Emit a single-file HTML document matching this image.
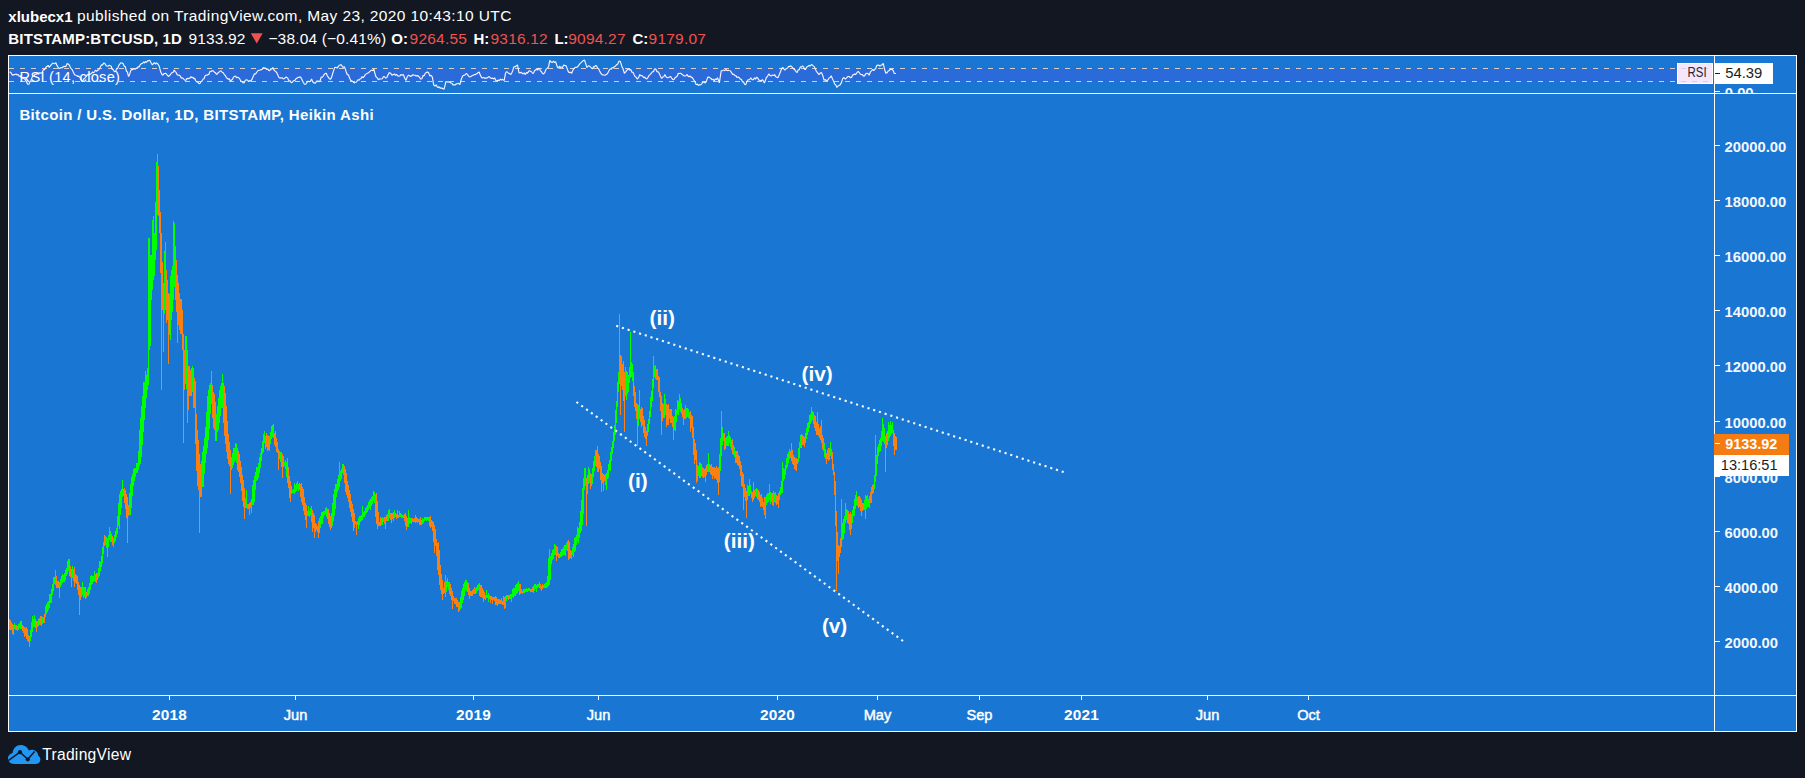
<!DOCTYPE html>
<html lang="en">
<head>
<meta charset="utf-8">
<title>BTCUSD chart by xlubecx1 - TradingView</title>
<style>
html,body{margin:0;padding:0;background:#131722;}
body{position:relative;width:1805px;height:778px;overflow:hidden;font-family:"Liberation Sans", Arial, sans-serif;color:#fff;}
.t{position:absolute;white-space:pre;}
</style>
</head>
<body>
<div id="header">
<span class="t" style="left:8.3px;top:8.9px;font-size:15px;line-height:15px;color:#fff;font-weight:700;">xlubecx1</span>
<span class="t" style="left:77px;top:8.48px;font-size:15.5px;line-height:15.5px;color:#fff;letter-spacing:0.39px;">published on TradingView.com, May 23, 2020 10:43:10 UTC</span>
<span class="t" style="left:8.3px;top:31.3px;font-size:15px;line-height:15px;color:#fff;font-weight:700;letter-spacing:0.17px;">BITSTAMP:BTCUSD, 1D</span>
<span class="t" style="left:188.6px;top:30.88px;font-size:15.5px;line-height:15.5px;color:#fff;letter-spacing:0.14px;">9133.92</span>
<span class="t" style="left:268.4px;top:30.88px;font-size:15.5px;line-height:15.5px;color:#fff;letter-spacing:0.16px;">−38.04 (−0.41%)</span>
<span class="t" style="left:391.3px;top:31.3px;font-size:15px;line-height:15px;color:#fff;font-weight:700;">O:</span>
<span class="t" style="left:409.6px;top:30.88px;font-size:15.5px;line-height:15.5px;color:#ef5350;letter-spacing:0.2px;">9264.55</span>
<span class="t" style="left:473.5px;top:31.3px;font-size:15px;line-height:15px;color:#fff;font-weight:700;">H:</span>
<span class="t" style="left:490.5px;top:30.88px;font-size:15.5px;line-height:15.5px;color:#ef5350;letter-spacing:0.2px;">9316.12</span>
<span class="t" style="left:554.4px;top:31.3px;font-size:15px;line-height:15px;color:#fff;font-weight:700;">L:</span>
<span class="t" style="left:568.3px;top:30.88px;font-size:15.5px;line-height:15.5px;color:#ef5350;letter-spacing:0.2px;">9094.27</span>
<span class="t" style="left:632.5px;top:31.3px;font-size:15px;line-height:15px;color:#fff;font-weight:700;">C:</span>
<span class="t" style="left:648.6px;top:30.88px;font-size:15.5px;line-height:15.5px;color:#ef5350;letter-spacing:0.2px;">9179.07</span>
<svg style="position:absolute;left:250px;top:32px" width="14" height="13" viewBox="0 0 14 13"><path d="M0.8 1.2H12.7L6.75 11.6z" fill="#ef5350"/></svg>
</div>
<svg id="chart" width="1805" height="778" viewBox="0 0 1805 778" style="position:absolute;left:0;top:0" font-family='"Liberation Sans", Arial, sans-serif'>
<rect x="8" y="55" width="1789" height="677" fill="#1976d2"/>
<rect x="9" y="68.5" width="1705" height="13" fill="#2a6bd9"/>
<g stroke="#d8cdc9" stroke-width="1" stroke-dasharray="5 6" shape-rendering="crispEdges"><line x1="9" y1="68.5" x2="1714" y2="68.5"/><line x1="9" y1="81.5" x2="1714" y2="81.5"/></g>
<polyline fill="none" stroke="#f8f2ff" stroke-width="1.15" stroke-linejoin="bevel" points="9.64,71.99 10.71,72.41 11.78,74.25 12.85,75.21 13.92,74.45 15,74.61 16.07,73.92 17.14,75.09 18.21,74.55 19.28,76.49 20.4,75.76 21.53,78.3 22.65,77.34 23.78,78.42 25.06,79.36 26.35,81.63 27.63,84.16 28.92,84.21 29.99,81.77 31.06,80.33 32.13,77.14 33.16,76.31 34.19,75.94 35.22,73.95 36.25,74.39 37.28,73.28 38.3,73.94 39.33,72.82 40.36,73.11 41.39,72.68 42.42,71.99 43.38,69.62 44.34,70.07 45.31,68.37 46.27,66.85 47.24,66.2 48.2,65.36 49.16,67.29 50.13,66.21 51.41,64.54 52.7,63 53.77,63.46 54.84,63.77 55.91,62.74 56.88,65.33 57.84,66.85 59.13,68.55 60.41,68.14 61.38,67.39 62.34,67.93 63.3,66.55 64.27,66.21 65.23,66.75 66.2,66.07 67.16,63.57 68.12,64.03 69.41,65.17 70.69,68.14 71.98,69.36 73.26,71.99 74.55,74.77 75.84,75.21 76.8,75.53 77.76,76.49 78.73,76.16 79.69,77.14 80.98,79.4 82.26,81.63 83.29,79.94 84.32,78.43 85.35,77.61 86.38,76.19 87.4,74.57 88.43,75.06 89.46,73.99 90.49,74.1 91.52,73.4 92.54,71.99 93.57,72.84 94.6,71.65 95.63,70 96.66,71.35 97.69,70.07 98.65,69.94 99.61,68.51 100.58,66.38 101.54,64.93 102.61,64.9 103.68,63.09 104.76,63.25 106.04,65.56 107.33,66.21 108.29,65.94 109.25,65.31 110.22,65.8 111.18,66.28 112.15,69.28 113.11,69.42 114.4,71.61 115.68,71.35 116.65,68.56 117.61,68.57 118.57,65.83 119.54,64.28 120.82,62.77 122.11,63 123.18,63.77 124.25,66.24 125.32,66.85 126.39,71 127.46,72.14 128.53,76.49 129.61,74.42 130.68,70.64 131.75,69.42 132.87,69.65 134,68.36 135.12,69.41 136.25,68.14 137.21,68.54 138.17,66.55 139.14,66.98 140.1,64.93 141.39,63.61 142.67,63.25 143.64,61.97 144.6,63.05 145.57,61.41 146.53,62.35 147.6,60.87 148.67,60.67 149.74,60.17 151.03,62.82 152.31,64.93 153.44,63.52 154.56,62.69 155.69,64.21 156.81,62.74 158.1,64.33 159.38,66.85 160.67,71.86 161.95,74.57 162.92,75.24 163.88,73.62 164.85,73.5 165.81,73.28 167.1,74.94 168.38,76.49 169.34,75.78 170.31,74.59 171.27,73.43 172.24,72.51 173.2,72.24 174.16,70.07 175.13,71.37 176.09,72.47 177.06,74.47 178.02,75.21 179.15,75.19 180.27,76 181.39,78.33 182.52,77.78 183.8,79.12 185.09,80.35 186.05,79.99 187.02,78.16 187.98,78.69 188.95,78.42 189.91,78.3 190.87,76.58 191.84,77.75 192.8,77.14 193.77,78.59 194.73,78.29 195.69,80.83 196.66,81.63 197.73,82.19 198.8,83.37 199.87,83.56 200.94,81.69 202.01,81.08 203.08,79.06 204.05,78.7 205.01,75.94 205.98,75.07 206.94,75.21 207.9,74.68 208.87,74.44 209.83,71.69 210.8,71.35 212.08,70.92 213.37,70.71 214.44,72.23 215.51,72.83 216.58,74.57 217.71,73.26 218.83,72.17 219.96,71.35 221.08,70.71 222.15,72.23 223.22,72.78 224.29,74.57 225.36,75.54 226.44,77.82 227.51,78.42 228,79.06 229.29,78.85 230.57,80.99 231.53,80.04 232.5,79.33 233.46,77.14 234.43,76.49 235.5,76.01 236.57,77.68 237.64,77.14 238.71,77.77 239.78,78.93 240.85,80.99 241.92,81.47 243,82.77 244.07,82.92 245.35,80.32 246.64,79.71 247.6,80.23 248.57,81.63 249.64,80.58 250.71,81.18 251.78,79.71 253.06,76.66 254.35,73.92 255.63,73.85 256.92,71.99 257.99,70.53 259.06,70.3 260.13,70.07 261.2,69.59 262.28,69.32 263.35,67.5 264.42,68.02 265.49,68.09 266.56,69.42 267.63,68.9 268.7,70.36 269.77,70.71 270.76,68.87 271.74,69.33 272.73,67.5 274.14,70.27 275.56,71.35 276.63,72.49 277.7,74.65 278.77,77.14 279.84,78.12 280.91,77.92 281.98,77.78 283.27,78.87 284.56,78.42 285.52,77.39 286.48,77.14 287.77,78.14 289.05,80.99 290.13,80.9 291.2,82.58 292.27,82.28 293.55,80.74 294.84,80.35 296.12,78.68 297.41,77.78 298.48,77.36 299.55,77.15 300.62,77.14 301.91,79.48 303.19,82.28 304.48,84.29 305.76,84.21 306.83,82.49 307.91,81.25 308.98,81.63 310.26,81.46 311.55,79.06 312.83,81.94 314.12,82.92 315.4,83.17 316.69,80.99 317.97,81.15 319.26,81.63 320.22,80.51 321.19,77.14 322.47,77.24 323.76,75.21 325.04,73.55 326.33,73.28 327.29,75.82 328.26,77.14 329.54,78.94 330.83,79.06 331.79,76.58 332.76,73.28 333.72,70.44 334.68,67.5 335.97,67.29 337.25,68.14 338.24,66.67 339.23,65.32 340.21,64.93 341.3,64.81 342.4,66.85 343.36,67.08 344.32,66.85 345.29,68.89 346.25,71.99 347.32,74.7 348.39,74.71 349.47,77.78 350.75,80.39 352.04,80.99 353.11,81.91 354.18,82.91 355.25,82.28 356.53,81.98 357.82,79.71 358.89,80.28 359.96,79.04 361.03,78.42 362.1,76.56 363.18,77.75 364.25,76.49 365.32,74.6 366.39,73.85 367.46,73.28 368.53,72.83 369.6,71.63 370.67,70.71 371.74,69.98 372.82,70.78 373.89,69.17 374.85,73.11 375.81,76.49 377.1,77.7 378.39,79.71 379.67,78.77 380.96,79.06 382.24,78.68 383.53,76.49 384.6,76.87 385.67,78.06 386.74,77.78 388.03,74.84 389.31,72.64 390.6,73.17 391.88,75.21 393.17,74.65 394.45,73.92 395.52,75.36 396.59,74.39 397.67,75.85 398.74,76.15 399.81,76.05 400.88,74.57 402.16,75.33 403.45,74.57 404.74,78.27 406.02,80.35 407.31,76.55 408.59,75.21 409.66,75.74 410.73,76.54 411.8,75.85 412.88,74.73 413.95,75.28 415.02,75.27 416.09,75.92 417.16,75.66 418.23,75.85 419.52,77.39 420.8,79.06 421.87,78.68 422.94,75.68 424.02,75.85 425.22,73.45 426.41,72.35 427.61,71.99 428.71,72.98 429.8,75.85 431.08,75.41 432.37,77.14 433.66,84.85 434.94,86.04 436.23,84.85 437.19,87.02 438.15,87.42 439.12,86.71 440.08,88.07 441.05,87.92 442.01,88.24 442.97,88.65 443.94,89.35 444.9,85.86 445.87,81.63 446.94,82.07 448.01,81.72 449.08,82.28 450.04,82.15 451.01,83.13 451.97,83.27 452.94,84.85 453.96,84.77 454.98,84.96 456,84.21 456.15,83.82 457.38,83.78 458.62,83.28 459.86,84.59 461.14,79.74 462.43,76.49 463.39,75.37 464.35,75.15 465.32,74.79 466.28,73.28 467.57,74.59 468.85,76.49 469.92,77.03 471,76.37 472.07,75.85 473.14,75.25 474.21,74.68 475.28,74.57 476.24,73.91 477.21,73.79 478.17,72.44 479.14,71.99 480.42,75.37 481.71,77.78 482.78,77.9 483.85,77.57 484.92,78.42 485.99,78.08 487.06,78.05 488.13,77.14 489.2,76.49 490.28,77.81 491.35,78.42 492.42,78.02 493.49,78.94 494.56,77.78 495.85,80.48 497.13,80.99 498.2,80.04 499.27,80.7 500.34,79.06 501.31,80.11 502.27,79.11 503.24,79.94 504.2,80.35 505.49,73.28 506.45,71.7 507.41,71.99 508.38,73.26 509.34,73.36 510.31,74.41 511.27,73.92 512.56,71.12 513.84,66.85 515.04,66.63 516.24,66.15 517.44,64.93 518.98,72.64 520.05,73.01 521.12,72.07 522.2,73.28 523.27,73.93 524.34,72.9 525.41,74.57 526.48,72.6 527.55,73.11 528.62,71.35 529.59,70.69 530.55,71.3 531.51,71.8 532.48,73.28 533.55,73.16 534.62,70.34 535.69,70.07 536.66,68.55 537.62,70.28 538.58,68.16 539.55,68.78 540.51,70.93 541.48,71.79 542.44,73.48 543.4,73.92 544.69,72.8 545.97,69.42 547.26,68.34 548.54,66.85 549.83,60.43 551.12,62.14 552.4,62.35 553.47,60.98 554.54,62.59 555.61,61.71 556.58,64.63 557.54,67.5 558.51,67.87 559.47,66.19 560.43,67.64 561.4,66.85 562.52,67.62 563.65,65.11 564.77,65.45 565.9,65.57 566.97,68.08 568.04,71.1 569.11,72.64 570.4,72.31 571.68,73.28 572.75,70.55 573.82,68.8 574.89,67.5 575.97,67.36 577.04,67.27 578.11,66.21 579.18,64.66 580.25,63.31 581.32,62.35 582.39,61.37 583.46,60.52 584.53,60.17 585.69,63.63 586.85,67.5 588.26,65.81 589.68,66.21 590.64,67.18 591.6,68.14 592.57,68.68 593.53,66.64 594.5,66.83 595.46,65.57 596.53,65.79 597.6,68.19 598.67,68.78 599.74,71.35 600.82,73.07 601.89,74.57 602.96,74.82 604.03,74.95 605.1,75.21 606.17,74.49 607.24,74.06 608.31,71.99 609.28,69.99 610.24,68.74 611.21,69.24 612.17,67.5 613.24,68.11 614.31,66.68 615.38,66.21 616.51,64.78 617.63,64.19 618.76,61.57 619.88,61.07 620.85,63.06 621.81,66.21 623.1,68.99 624.38,73.28 625.67,71.89 626.95,70.07 627.92,69.44 628.88,69.08 629.84,70.06 630.81,69.42 631.88,72.27 632.95,72.34 634.02,74.57 635.09,76.58 636.16,77.35 637.23,79.06 638.52,77.7 639.8,74.57 640.77,75.58 641.73,75.59 642.7,76.27 643.66,77.78 644.73,77.02 645.8,78.58 646.87,79.06 648,77.33 649.12,75.35 650.25,74.38 651.37,73.28 652.43,71.71 653.49,71.72 654.55,69.02 655.61,68.78 657.03,71.62 658.44,71.99 659.51,74.09 660.58,76.53 661.66,78.42 662.73,77.06 663.8,76.69 664.87,74.57 666.15,76.98 667.44,77.78 668.51,77.49 669.58,76.88 670.65,76.49 671.72,78.12 672.8,79.53 673.87,79.71 674.99,77.85 676.12,77.08 677.24,76.04 678.37,73.28 679.33,73.52 680.29,73.25 681.26,73.58 682.22,74.57 684,75.85 685.07,75.97 686.14,75.43 687.21,74.57 688.18,76.36 689.14,76.74 690.11,75.85 691.07,77.14 692.35,77.65 693.64,79.71 694.93,81.67 696.21,84.85 697.28,84.07 698.35,85.36 699.42,84.85 700.5,84.89 701.57,84.13 702.64,82.28 703.92,81.99 705.21,82.92 706.49,80.94 707.78,77.14 708.85,77.1 709.92,77.8 710.99,78.42 712.06,79.85 713.13,79.1 714.21,80.99 715.28,78.9 716.35,79.68 717.42,77.78 718.38,79.83 719.35,82.92 720.31,76.46 721.28,70.71 722.56,70.59 723.85,70.07 724.92,70.72 725.99,69.26 727.06,70.71 728.13,70.3 729.2,70.55 730.27,70.71 731.56,72.6 732.84,74.57 733.91,74.27 734.99,75.64 736.06,75.85 737.13,77.63 738.2,76.86 739.27,77.78 740.34,79.18 741.41,79.4 742.48,81.63 743.55,82.14 744.63,84.19 745.7,84.85 746.98,81.31 748.27,79.71 749.55,79.71 750.84,77.78 752.12,79.76 753.41,79.71 754.48,77.84 755.55,79.1 756.62,77.14 757.69,77.89 758.76,79.96 759.84,80.35 761.12,80.67 762.41,79.71 763.37,80.8 764.33,82.92 765.3,80.79 766.26,77.78 767.55,76.24 768.83,73.92 770.12,75.65 771.4,75.85 772.47,74.84 773.55,75.63 774.62,74.57 775.69,76.79 776.76,77.14 777.83,77.78 779.12,74.98 780.4,71.99 781.56,68.78 782.71,67.5 783.81,68.77 784.9,70.07 785.86,68.73 786.83,68.68 787.79,67.62 788.76,66.21 789.83,66.59 790.9,65.84 791.97,66.85 793.25,68.5 794.54,69.42 795.83,71.36 797.11,72.64 798.18,69.91 799.25,69.76 800.32,66.85 801.4,67.24 802.47,65.91 803.54,66.85 804.5,69.22 805.47,69.42 806.75,66.92 808.04,66.21 809,65.37 809.96,65.93 810.93,65.2 811.89,64.54 813.18,65.83 814.46,66.85 815.43,69.47 816.39,71.35 817.68,72.85 818.96,74.57 820.25,73.13 821.53,72.64 822.82,75.68 824.1,80.35 825.39,79.59 826.67,80.99 827.96,79.93 829.24,77.78 830.21,77.45 831.17,75.85 832.46,78.85 833.74,81.63 834.81,84.16 835.89,85.14 836.96,87.42 838.03,85.98 839.1,85.41 840.17,84.85 841.46,82.57 842.74,78.42 844.03,77.6 845.31,79.06 846.6,77.79 847.88,76.49 849.17,76.5 850.45,77.78 851.52,77.38 852.59,75.27 853.67,74.57 854.63,74.15 855.59,74.57 856.88,72.72 858.16,71.35 859.24,72.53 860.31,74.17 861.38,74.57 862.45,74.63 863.52,76.29 864.59,75.85 865.88,73.6 867.16,73.28 868.13,73.67 869.09,75.21 870.38,71.96 871.66,70.71 872.73,69.31 873.8,70.55 874.87,69.42 875.84,68.06 876.8,65.57 877.87,64.99 878.94,65.22 880.02,66.21 881.09,65.02 882.16,64.85 883.23,63.25 884.51,69.06 885.8,73.28 887.08,72.62 888.37,70.71 889.33,70.62 890.3,69.18 891.26,69.49 892.23,69.42 893.19,70.59 894.15,73.28 895.12,73.48 896.08,73.54"/>
<g shape-rendering="crispEdges">
<path fill="#fb8012" d="M9 627v3h1v-3zM10 628v2h1v-2zM12 632v2h1v-2zM13 631v4h1v-4zM16 625v1h1v-1zM21 621v3h1v-3zM24 634v3h1v-3zM26 627v2h1v-2zM26 637v2h1v-2zM27 629v1h1v-1zM29 644v3h1v-3zM35 627v1h1v-1zM36 629v3h1v-3zM39 618v1h1v-1zM40 616v1h1v-1zM58 581v1h1v-1zM59 589v9h1v-9zM71 580v7h1v-7zM74 567v6h1v-6zM74 582v5h1v-5zM79 594v21h1v-21zM85 587v4h1v-4zM96 573v3h1v-3zM101 556v2h1v-2zM107 545v12h1v-12zM124 502v1h1v-1zM126 516v2h1v-2zM127 497v2h1v-2zM127 516v27h1v-27zM161 285v105h1v-105zM163 323v29h1v-29zM168 330v34h1v-34zM177 320v23h1v-23zM183 400v43h1v-43zM187 400v23h1v-23zM197 480v6h1v-6zM199 495v38h1v-38zM230 470v24h1v-24zM238 470v2h1v-2zM239 454v1h1v-1zM244 507v12h1v-12zM249 508v7h1v-7zM250 502v1h1v-1zM266 433v3h1v-3zM275 431v2h1v-2zM276 450v2h1v-2zM278 461v9h1v-9zM282 468v10h1v-10zM283 456v3h1v-3zM287 458v4h1v-4zM289 494v4h1v-4zM290 494v8h1v-8zM299 488v2h1v-2zM300 494v3h1v-3zM301 483v3h1v-3zM303 489v4h1v-4zM304 497v3h1v-3zM305 516v4h1v-4zM306 505v2h1v-2zM306 517v11h1v-11zM312 526v6h1v-6zM314 515v4h1v-4zM314 530v8h1v-8zM316 524v2h1v-2zM317 531v1h1v-1zM318 521v2h1v-2zM318 529v9h1v-9zM328 509v2h1v-2zM330 528v2h1v-2zM331 526v2h1v-2zM343 464v3h1v-3zM344 466v3h1v-3zM345 489v3h1v-3zM346 473v1h1v-1zM346 493v2h1v-2zM348 485v1h1v-1zM349 507v1h1v-1zM353 524v7h1v-7zM354 513v1h1v-1zM354 525v3h1v-3zM356 525v10h1v-10zM375 514v3h1v-3zM377 524v5h1v-5zM380 517v3h1v-3zM384 521v3h1v-3zM385 522v7h1v-7zM390 518v2h1v-2zM391 520v3h1v-3zM397 510v4h1v-4zM405 513v2h1v-2zM406 526v4h1v-4zM411 521v3h1v-3zM415 515v3h1v-3zM420 517v2h1v-2zM429 523v3h1v-3zM430 516v1h1v-1zM430 525v3h1v-3zM434 543v10h1v-10zM437 567v3h1v-3zM438 542v1h1v-1zM439 550v3h1v-3zM439 584v1h1v-1zM440 589v1h1v-1zM442 594v6h1v-6zM452 601v8h1v-8zM454 603v1h1v-1zM458 609v3h1v-3zM459 608v3h1v-3zM469 594v5h1v-5zM472 590v1h1v-1zM472 594v2h1v-2zM474 587v3h1v-3zM480 595v2h1v-2zM482 588v2h1v-2zM483 590v2h1v-2zM483 599v3h1v-3zM484 592v1h1v-1zM490 599v4h1v-4zM492 600v4h1v-4zM495 596v2h1v-2zM497 605v1h1v-1zM498 599v2h1v-2zM499 599v1h1v-1zM500 600v1h1v-1zM501 598v3h1v-3zM502 601v1h1v-1zM503 596v3h1v-3zM504 605v4h1v-4zM519 593v2h1v-2zM533 592v1h1v-1zM541 589v2h1v-2zM542 584v2h1v-2zM556 546v2h1v-2zM556 558v3h1v-3zM568 540v3h1v-3zM568 554v6h1v-6zM569 557v2h1v-2zM570 556v2h1v-2zM571 556v3h1v-3zM586 494v32h1v-32zM587 491v3h1v-3zM590 473v4h1v-4zM590 486v3h1v-3zM596 450v4h1v-4zM597 446v10h1v-10zM600 476v4h1v-4zM601 480v12h1v-12zM603 481v10h1v-10zM620 383v32h1v-32zM624 392v40h1v-40zM634 404v3h1v-3zM637 426v20h1v-20zM641 423v4h1v-4zM642 408v4h1v-4zM644 436v1h1v-1zM646 439v7h1v-7zM656 378v2h1v-2zM658 389v3h1v-3zM659 377v4h1v-4zM660 392v1h1v-1zM660 408v3h1v-3zM661 415v20h1v-20zM666 419v8h1v-8zM668 404v3h1v-3zM668 422v3h1v-3zM670 420v3h1v-3zM671 409v4h1v-4zM673 430v10h1v-10zM681 403v3h1v-3zM683 417v8h1v-8zM690 422v10h1v-10zM696 475v8h1v-8zM701 464v3h1v-3zM705 477v5h1v-5zM712 475v4h1v-4zM717 481v2h1v-2zM718 467v3h1v-3zM718 480v15h1v-15zM724 433v1h1v-1zM724 447v3h1v-3zM725 448v1h1v-1zM732 439v3h1v-3zM735 460v3h1v-3zM737 451v3h1v-3zM739 456v3h1v-3zM740 474v2h1v-2zM741 482v4h1v-4zM742 486v1h1v-1zM743 474v2h1v-2zM743 496v14h1v-14zM746 491v1h1v-1zM746 503v15h1v-15zM752 498v4h1v-4zM753 482v8h1v-8zM759 492v1h1v-1zM760 504v3h1v-3zM761 494v1h1v-1zM764 497v3h1v-3zM764 512v3h1v-3zM772 503v2h1v-2zM778 503v5h1v-5zM791 443v10h1v-10zM792 450v3h1v-3zM794 466v3h1v-3zM795 467v3h1v-3zM796 458v2h1v-2zM796 468v3h1v-3zM814 415v1h1v-1zM814 426v2h1v-2zM815 416v3h1v-3zM816 433v2h1v-2zM817 412v14h1v-14zM818 424v3h1v-3zM820 426v4h1v-4zM821 420v10h1v-10zM822 447v2h1v-2zM828 458v3h1v-3zM836 540v51h1v-51zM838 555v19h1v-19zM840 552v1h1v-1zM850 512v4h1v-4zM850 532v3h1v-3zM858 506v2h1v-2zM860 510v1h1v-1zM861 500v2h1v-2zM861 511v5h1v-5zM877 447v3h1v-3zM885 448v24h1v-24zM893 443v3h1v-3zM894 447v8h1v-8zM9 619v8h1v-8zM10 620v8h1v-8zM11 622v8h1v-8zM12 624v8h1v-8zM13 625v6h1v-6zM16 626v4h1v-4zM17 626v5h1v-5zM21 624v5h1v-5zM22 625v6h1v-6zM23 626v7h1v-7zM24 627v7h1v-7zM25 628v8h1v-8zM26 629v8h1v-8zM27 630v11h1v-11zM28 635v7h1v-7zM29 636v8h1v-8zM33 619v8h1v-8zM35 619v8h1v-8zM36 621v8h1v-8zM39 619v6h1v-6zM40 617v8h1v-8zM43 617v6h1v-6zM44 614v9h1v-9zM56 576v12h1v-12zM57 581v7h1v-7zM58 582v6h1v-6zM59 582v7h1v-7zM70 566v11h1v-11zM71 569v11h1v-11zM74 573v9h1v-9zM75 574v9h1v-9zM76 575v9h1v-9zM78 582v13h1v-13zM79 585v9h1v-9zM80 587v13h1v-13zM85 591v8h1v-8zM86 592v6h1v-6zM95 574v8h1v-8zM96 576v7h1v-7zM101 558v9h1v-9zM104 535v11h1v-11zM107 538v7h1v-7zM111 534v8h1v-8zM112 536v9h1v-9zM113 538v9h1v-9zM123 489v7h1v-7zM124 488v14h1v-14zM125 490v19h1v-19zM126 494v22h1v-22zM127 499v17h1v-17zM128 505v11h1v-11zM151 255v45h1v-45zM158 166v50h1v-50zM159 190v43h1v-43zM160 212v61h1v-61zM161 233v52h1v-52zM162 262v48h1v-48zM163 283v40h1v-40zM166 270v53h1v-53zM167 280v40h1v-40zM168 293v37h1v-37zM169 294v41h1v-41zM175 246v54h1v-54zM176 260v52h1v-52zM177 275v45h1v-45zM178 283v42h1v-42zM180 299v35h1v-35zM181 299v35h1v-35zM182 310v40h1v-40zM183 334v66h1v-66zM184 350v40h1v-40zM187 350v50h1v-50zM188 366v44h1v-44zM190 370v26h1v-26zM194 378v30h1v-30zM195 381v63h1v-63zM196 414v57h1v-57zM197 430v50h1v-50zM198 440v50h1v-50zM199 454v41h1v-41zM200 464v33h1v-33zM212 385v33h1v-33zM213 392v36h1v-36zM214 394v36h1v-36zM215 402v39h1v-39zM223 383v40h1v-40zM224 386v50h1v-50zM225 393v51h1v-51zM226 406v46h1v-46zM227 421v38h1v-38zM228 434v30h1v-30zM229 442v24h1v-24zM230 450v20h1v-20zM231 457v13h1v-13zM237 448v22h1v-22zM238 451v19h1v-19zM239 455v22h1v-22zM240 461v22h1v-22zM241 467v24h1v-24zM242 475v26h1v-26zM243 480v27h1v-27zM244 488v19h1v-19zM248 504v5h1v-5zM249 503v5h1v-5zM250 503v5h1v-5zM261 448v13h1v-13zM265 436v13h1v-13zM266 436v11h1v-11zM268 436v14h1v-14zM274 433v12h1v-12zM275 433v14h1v-14zM276 438v12h1v-12zM277 442v11h1v-11zM278 449v12h1v-12zM279 451v8h1v-8zM282 454v14h1v-14zM283 459v8h1v-8zM287 462v21h1v-21zM288 467v21h1v-21zM289 476v18h1v-18zM290 481v13h1v-13zM291 486v8h1v-8zM299 483v5h1v-5zM300 484v10h1v-10zM301 486v16h1v-16zM302 487v18h1v-18zM303 493v18h1v-18zM304 500v15h1v-15zM305 503v13h1v-13zM306 507v10h1v-10zM312 510v16h1v-16zM313 513v15h1v-15zM314 519v11h1v-11zM315 523v9h1v-9zM316 526v4h1v-4zM317 526v5h1v-5zM318 523v6h1v-6zM327 509v10h1v-10zM328 511v13h1v-13zM329 513v14h1v-14zM330 516v12h1v-12zM331 513v13h1v-13zM343 467v8h1v-8zM344 469v14h1v-14zM345 469v20h1v-20zM346 474v19h1v-19zM347 481v17h1v-17zM348 486v16h1v-16zM349 490v17h1v-17zM350 494v18h1v-18zM351 501v16h1v-16zM352 504v18h1v-18zM353 509v15h1v-15zM354 514v11h1v-11zM355 521v3h1v-3zM356 522v3h1v-3zM357 521v4h1v-4zM375 494v20h1v-20zM376 493v31h1v-31zM377 501v23h1v-23zM378 512v14h1v-14zM379 522v4h1v-4zM380 520v6h1v-6zM384 517v4h1v-4zM385 517v5h1v-5zM386 515v6h1v-6zM387 514v7h1v-7zM390 513v5h1v-5zM391 513v7h1v-7zM392 513v6h1v-6zM396 514v5h1v-5zM397 514v4h1v-4zM398 515v3h1v-3zM403 515v3h1v-3zM404 514v7h1v-7zM405 515v11h1v-11zM406 516v10h1v-10zM407 518v9h1v-9zM411 518v3h1v-3zM412 518v4h1v-4zM413 519v3h1v-3zM414 518v4h1v-4zM415 518v5h1v-5zM416 517v5h1v-5zM417 518v5h1v-5zM418 519v3h1v-3zM419 519v6h1v-6zM420 519v6h1v-6zM421 520v5h1v-5zM429 517v6h1v-6zM430 517v8h1v-8zM431 520v7h1v-7zM432 521v10h1v-10zM433 522v20h1v-20zM434 525v18h1v-18zM435 529v17h1v-17zM436 539v17h1v-17zM437 543v24h1v-24zM438 543v32h1v-32zM439 553v31h1v-31zM440 565v24h1v-24zM441 574v20h1v-20zM442 580v14h1v-14zM443 588v6h1v-6zM444 582v11h1v-11zM449 582v12h1v-12zM450 584v12h1v-12zM451 588v12h1v-12zM452 591v10h1v-10zM453 596v5h1v-5zM454 598v5h1v-5zM455 598v6h1v-6zM456 598v9h1v-9zM457 600v7h1v-7zM458 602v7h1v-7zM459 602v6h1v-6zM467 582v10h1v-10zM468 583v12h1v-12zM469 588v6h1v-6zM470 591v5h1v-5zM471 591v5h1v-5zM472 591v3h1v-3zM473 589v5h1v-5zM474 590v4h1v-4zM480 585v10h1v-10zM481 585v12h1v-12zM482 590v8h1v-8zM483 592v7h1v-7zM484 593v6h1v-6zM485 595v5h1v-5zM489 595v4h1v-4zM490 596v3h1v-3zM491 596v4h1v-4zM492 597v3h1v-3zM493 597v3h1v-3zM494 597v4h1v-4zM495 598v7h1v-7zM496 597v8h1v-8zM497 599v6h1v-6zM498 601v3h1v-3zM499 600v4h1v-4zM500 601v3h1v-3zM501 601v3h1v-3zM502 602v3h1v-3zM503 599v6h1v-6zM504 597v8h1v-8zM507 595v4h1v-4zM508 595v5h1v-5zM509 595v4h1v-4zM519 584v9h1v-9zM520 584v10h1v-10zM521 589v4h1v-4zM522 591v3h1v-3zM523 589v4h1v-4zM530 589v3h1v-3zM531 589v3h1v-3zM532 587v5h1v-5zM533 586v6h1v-6zM540 584v5h1v-5zM541 586v3h1v-3zM542 586v3h1v-3zM556 548v10h1v-10zM557 547v9h1v-9zM558 553v5h1v-5zM559 554v4h1v-4zM568 543v11h1v-11zM569 542v15h1v-15zM570 550v6h1v-6zM571 551v5h1v-5zM586 478v16h1v-16zM587 475v16h1v-16zM590 477v9h1v-9zM591 474v12h1v-12zM596 454v13h1v-13zM597 456v16h1v-16zM598 454v18h1v-18zM599 456v13h1v-13zM600 462v14h1v-14zM601 466v14h1v-14zM602 473v10h1v-10zM603 474v7h1v-7zM604 475v6h1v-6zM613 432v16h1v-16zM620 355v28h1v-28zM621 356v30h1v-30zM622 364v26h1v-26zM623 361v40h1v-40zM624 372v20h1v-20zM633 372v24h1v-24zM634 386v18h1v-18zM635 392v19h1v-19zM636 403v16h1v-16zM637 404v22h1v-22zM640 409v13h1v-13zM641 407v16h1v-16zM642 412v13h1v-13zM643 416v17h1v-17zM644 420v16h1v-16zM645 427v12h1v-12zM646 431v8h1v-8zM647 424v12h1v-12zM649 411v13h1v-13zM656 369v9h1v-9zM657 369v11h1v-11zM658 376v13h1v-13zM659 381v16h1v-16zM660 393v15h1v-15zM661 396v19h1v-19zM662 403v18h1v-18zM663 404v14h1v-14zM666 404v15h1v-15zM667 405v20h1v-20zM668 407v15h1v-15zM670 409v11h1v-11zM671 413v10h1v-10zM672 416v11h1v-11zM673 417v13h1v-13zM681 406v8h1v-8zM682 408v9h1v-9zM683 410v7h1v-7zM684 409v10h1v-10zM689 412v7h1v-7zM690 411v11h1v-11zM691 415v13h1v-13zM692 416v22h1v-22zM693 427v28h1v-28zM694 439v25h1v-25zM695 443v17h1v-17zM696 450v25h1v-25zM697 465v16h1v-16zM701 467v9h1v-9zM702 467v10h1v-10zM703 468v10h1v-10zM704 469v8h1v-8zM705 468v9h1v-9zM706 465v10h1v-10zM709 464v8h1v-8zM710 465v9h1v-9zM711 464v11h1v-11zM712 467v8h1v-8zM713 467v9h1v-9zM714 467v12h1v-12zM715 468v10h1v-10zM716 466v14h1v-14zM717 468v13h1v-13zM718 470v10h1v-10zM724 434v13h1v-13zM725 438v10h1v-10zM731 440v10h1v-10zM732 442v12h1v-12zM735 451v9h1v-9zM736 451v12h1v-12zM737 454v11h1v-11zM738 455v11h1v-11zM739 459v10h1v-10zM740 461v13h1v-13zM741 465v17h1v-17zM742 472v14h1v-14zM743 476v20h1v-20zM744 484v13h1v-13zM745 488v13h1v-13zM746 492v11h1v-11zM751 491v7h1v-7zM752 492v6h1v-6zM753 490v10h1v-10zM754 490v8h1v-8zM758 490v10h1v-10zM759 493v9h1v-9zM760 495v9h1v-9zM761 495v11h1v-11zM762 498v9h1v-9zM763 502v8h1v-8zM764 500v12h1v-12zM771 493v9h1v-9zM772 493v10h1v-10zM776 495v10h1v-10zM777 496v8h1v-8zM778 493v10h1v-10zM790 451v7h1v-7zM791 453v8h1v-8zM792 453v11h1v-11zM793 455v10h1v-10zM794 457v9h1v-9zM795 458v9h1v-9zM796 460v8h1v-8zM797 459v5h1v-5zM802 435v10h1v-10zM803 436v9h1v-9zM804 437v10h1v-10zM805 433v10h1v-10zM814 416v10h1v-10zM815 419v12h1v-12zM816 422v11h1v-11zM817 426v9h1v-9zM818 427v9h1v-9zM819 428v10h1v-10zM820 430v10h1v-10zM821 430v13h1v-13zM822 435v12h1v-12zM823 438v13h1v-13zM825 449v10h1v-10zM826 453v11h1v-11zM827 450v9h1v-9zM828 448v10h1v-10zM832 452v18h1v-18zM833 464v11h1v-11zM834 472v23h1v-23zM835 481v45h1v-45zM836 511v29h1v-29zM837 532v29h1v-29zM838 545v10h1v-10zM839 546v11h1v-11zM840 538v14h1v-14zM847 510v13h1v-13zM848 511v13h1v-13zM849 514v16h1v-16zM850 516v16h1v-16zM858 496v10h1v-10zM859 496v11h1v-11zM860 498v12h1v-12zM861 502v9h1v-9zM862 503v8h1v-8zM863 503v7h1v-7zM870 492v11h1v-11zM872 485v9h1v-9zM877 450v14h1v-14zM885 436v12h1v-12zM886 433v15h1v-15zM887 431v14h1v-14zM893 430v13h1v-13zM894 433v14h1v-14zM895 436v14h1v-14zM896 437v13h1v-13z"/>
<path fill="#00ff00" d="M14 623v2h1v-2zM20 621v2h1v-2zM34 615v3h1v-3zM34 626v1h1v-1zM41 623v3h1v-3zM45 606v1h1v-1zM47 610v2h1v-2zM49 594v3h1v-3zM51 589v1h1v-1zM51 599v4h1v-4zM55 570v4h1v-4zM67 561v3h1v-3zM67 572v2h1v-2zM69 572v4h1v-4zM77 576v4h1v-4zM84 587v1h1v-1zM89 592v2h1v-2zM90 576v3h1v-3zM90 588v2h1v-2zM91 575v1h1v-1zM94 571v3h1v-3zM106 544v4h1v-4zM108 543v4h1v-4zM109 527v2h1v-2zM121 504v4h1v-4zM122 480v6h1v-6zM130 512v3h1v-3zM131 477v2h1v-2zM133 469v3h1v-3zM134 468v2h1v-2zM138 451v4h1v-4zM143 382v6h1v-6zM145 371v4h1v-4zM150 330v16h1v-16zM157 154v4h1v-4zM165 242v10h1v-10zM173 221v4h1v-4zM211 371v14h1v-14zM222 374v4h1v-4zM246 490v13h1v-13zM251 499v2h1v-2zM251 509v4h1v-4zM252 485v2h1v-2zM256 467v2h1v-2zM257 478v2h1v-2zM258 476v2h1v-2zM259 457v2h1v-2zM263 450v2h1v-2zM269 447v4h1v-4zM273 424v4h1v-4zM281 452v1h1v-1zM285 460v1h1v-1zM294 483v3h1v-3zM297 481v1h1v-1zM298 488v3h1v-3zM308 506v4h1v-4zM309 514v3h1v-3zM310 508v2h1v-2zM311 506v4h1v-4zM319 530v3h1v-3zM322 521v3h1v-3zM326 507v2h1v-2zM335 484v4h1v-4zM335 507v2h1v-2zM339 462v11h1v-11zM341 476v3h1v-3zM342 464v4h1v-4zM358 526v3h1v-3zM361 520v1h1v-1zM362 506v6h1v-6zM369 500v1h1v-1zM370 506v4h1v-4zM371 504v2h1v-2zM373 491v2h1v-2zM388 510v3h1v-3zM389 509v4h1v-4zM393 519v2h1v-2zM394 510v3h1v-3zM399 511v3h1v-3zM408 510v9h1v-9zM426 520v1h1v-1zM445 575v6h1v-6zM445 593v4h1v-4zM447 578v3h1v-3zM464 594v2h1v-2zM465 580v1h1v-1zM466 580v2h1v-2zM479 583v2h1v-2zM479 593v3h1v-3zM486 590v4h1v-4zM488 593v2h1v-2zM488 599v3h1v-3zM505 605v3h1v-3zM511 598v4h1v-4zM512 589v2h1v-2zM513 597v1h1v-1zM515 594v2h1v-2zM516 592v2h1v-2zM517 590v3h1v-3zM518 581v3h1v-3zM536 589v3h1v-3zM539 582v2h1v-2zM548 558v3h1v-3zM549 549v9h1v-9zM554 544v3h1v-3zM555 545v1h1v-1zM561 549v2h1v-2zM564 553v2h1v-2zM565 552v4h1v-4zM567 541v1h1v-1zM573 556v1h1v-1zM574 538v1h1v-1zM575 550v1h1v-1zM577 527v4h1v-4zM578 539v4h1v-4zM584 468v2h1v-2zM584 486v4h1v-4zM585 485v1h1v-1zM588 467v7h1v-7zM589 469v3h1v-3zM592 481v3h1v-3zM593 474v3h1v-3zM594 469v2h1v-2zM595 450v2h1v-2zM605 483v2h1v-2zM606 484v6h1v-6zM608 475v3h1v-3zM610 469v2h1v-2zM615 410v3h1v-3zM618 372v2h1v-2zM619 314v40h1v-40zM626 371v3h1v-3zM627 372v1h1v-1zM630 332v21h1v-21zM632 379v2h1v-2zM638 405v2h1v-2zM639 390v19h1v-19zM650 397v4h1v-4zM652 399v2h1v-2zM653 356v15h1v-15zM653 385v3h1v-3zM655 376v3h1v-3zM664 394v7h1v-7zM665 399v2h1v-2zM675 409v3h1v-3zM675 429v2h1v-2zM678 413v2h1v-2zM679 394v4h1v-4zM680 398v4h1v-4zM685 405v3h1v-3zM699 476v2h1v-2zM700 463v3h1v-3zM708 453v9h1v-9zM719 454v4h1v-4zM721 411v20h1v-20zM722 427v3h1v-3zM722 442v3h1v-3zM728 431v2h1v-2zM747 485v2h1v-2zM749 479v5h1v-5zM756 496v1h1v-1zM765 511v8h1v-8zM769 484v7h1v-7zM770 501v3h1v-3zM773 503v3h1v-3zM781 481v2h1v-2zM782 462v11h1v-11zM782 489v4h1v-4zM783 468v3h1v-3zM801 445v3h1v-3zM808 430v2h1v-2zM809 425v3h1v-3zM811 407v3h1v-3zM812 411v2h1v-2zM829 456v4h1v-4zM830 442v4h1v-4zM830 453v3h1v-3zM841 499v27h1v-27zM841 544v3h1v-3zM842 537v3h1v-3zM844 532v1h1v-1zM845 503v7h1v-7zM851 528v1h1v-1zM852 510v2h1v-2zM854 514v2h1v-2zM855 495v2h1v-2zM856 491v5h1v-5zM857 503v3h1v-3zM865 495v1h1v-1zM865 505v14h1v-14zM869 506v2h1v-2zM871 487v2h1v-2zM875 435v33h1v-33zM882 418v8h1v-8zM882 440v1h1v-1zM884 442v2h1v-2zM889 436v2h1v-2zM890 421v4h1v-4zM890 434v2h1v-2zM14 625v4h1v-4zM15 625v5h1v-5zM18 624v6h1v-6zM19 623v5h1v-5zM20 623v6h1v-6zM30 630v11h1v-11zM31 622v15h1v-15zM32 616v16h1v-16zM34 618v8h1v-8zM37 621v6h1v-6zM38 619v7h1v-7zM41 616v7h1v-7zM42 617v7h1v-7zM45 607v10h1v-10zM46 604v10h1v-10zM47 602v8h1v-8zM48 601v9h1v-9zM49 597v11h1v-11zM50 594v9h1v-9zM51 590v9h1v-9zM52 584v11h1v-11zM53 577v14h1v-14zM54 577v7h1v-7zM55 574v11h1v-11zM60 579v8h1v-8zM61 576v9h1v-9zM62 574v9h1v-9zM63 575v7h1v-7zM64 573v9h1v-9zM65 570v10h1v-10zM66 568v8h1v-8zM67 564v8h1v-8zM68 559v12h1v-12zM69 559v13h1v-13zM72 566v12h1v-12zM73 569v12h1v-12zM77 580v10h1v-10zM81 587v10h1v-10zM82 582v13h1v-13zM83 587v11h1v-11zM84 588v9h1v-9zM87 589v7h1v-7zM88 587v9h1v-9zM89 583v9h1v-9zM90 579v9h1v-9zM91 576v9h1v-9zM92 576v8h1v-8zM93 576v6h1v-6zM94 574v7h1v-7zM97 573v7h1v-7zM98 568v10h1v-10zM99 561v15h1v-15zM100 562v9h1v-9zM102 547v16h1v-16zM103 542v12h1v-12zM105 536v9h1v-9zM106 537v7h1v-7zM108 535v8h1v-8zM109 529v11h1v-11zM110 531v11h1v-11zM114 535v8h1v-8zM115 531v10h1v-10zM116 528v9h1v-9zM117 516v18h1v-18zM118 503v23h1v-23zM119 494v35h1v-35zM120 491v24h1v-24zM121 489v15h1v-15zM122 486v11h1v-11zM129 493v22h1v-22zM130 484v28h1v-28zM131 479v29h1v-29zM132 474v22h1v-22zM133 472v14h1v-14zM134 470v11h1v-11zM135 468v9h1v-9zM136 463v10h1v-10zM137 463v10h1v-10zM138 455v15h1v-15zM139 430v36h1v-36zM140 418v46h1v-46zM141 406v51h1v-51zM142 396v49h1v-49zM143 388v44h1v-44zM144 382v38h1v-38zM145 375v33h1v-33zM146 375v23h1v-23zM147 368v22h1v-22zM148 238v147h1v-147zM149 238v112h1v-112zM150 255v75h1v-75zM152 220v70h1v-70zM153 216v64h1v-64zM154 233v43h1v-43zM155 202v58h1v-58zM156 162v88h1v-88zM157 158v57h1v-57zM164 251v63h1v-63zM165 252v58h1v-58zM170 276v64h1v-64zM171 270v50h1v-50zM172 266v46h1v-46zM173 225v75h1v-75zM174 223v64h1v-64zM179 293v37h1v-37zM185 336v48h1v-48zM186 336v53h1v-53zM189 366v30h1v-30zM191 368v28h1v-28zM192 366v26h1v-26zM193 368v40h1v-40zM201 461v36h1v-36zM202 452v35h1v-35zM203 446v41h1v-41zM204 438v36h1v-36zM205 427v36h1v-36zM206 412v42h1v-42zM207 396v52h1v-52zM208 390v50h1v-50zM209 385v44h1v-44zM210 383v31h1v-31zM211 385v19h1v-19zM216 414v27h1v-27zM217 406v26h1v-26zM218 398v32h1v-32zM219 390v33h1v-33zM220 386v30h1v-30zM221 383v25h1v-25zM222 378v30h1v-30zM232 453v15h1v-15zM233 448v17h1v-17zM234 448v14h1v-14zM235 443v17h1v-17zM236 444v19h1v-19zM245 498v10h1v-10zM246 503v5h1v-5zM247 504v5h1v-5zM251 501v8h1v-8zM252 487v18h1v-18zM253 480v25h1v-25zM254 476v26h1v-26zM255 472v18h1v-18zM256 469v12h1v-12zM257 467v11h1v-11zM258 463v13h1v-13zM259 459v14h1v-14zM260 453v15h1v-15zM262 441v13h1v-13zM263 434v16h1v-16zM264 431v12h1v-12zM267 435v16h1v-16zM269 436v11h1v-11zM270 432v12h1v-12zM271 426v13h1v-13zM272 425v12h1v-12zM273 428v10h1v-10zM280 452v10h1v-10zM281 453v14h1v-14zM284 462v4h1v-4zM285 461v8h1v-8zM286 462v15h1v-15zM292 490v3h1v-3zM293 489v4h1v-4zM294 486v8h1v-8zM295 485v7h1v-7zM296 483v8h1v-8zM297 482v7h1v-7zM298 484v4h1v-4zM307 511v5h1v-5zM308 510v6h1v-6zM309 511v3h1v-3zM310 510v5h1v-5zM311 510v12h1v-12zM319 518v12h1v-12zM320 516v12h1v-12zM321 512v12h1v-12zM322 512v9h1v-9zM323 511v7h1v-7zM324 511v4h1v-4zM325 508v6h1v-6zM326 509v8h1v-8zM332 503v23h1v-23zM333 494v27h1v-27zM334 489v27h1v-27zM335 488v19h1v-19zM336 484v13h1v-13zM337 479v13h1v-13zM338 475v15h1v-15zM339 473v14h1v-14zM340 471v10h1v-10zM341 469v7h1v-7zM342 468v5h1v-5zM358 518v8h1v-8zM359 516v9h1v-9zM360 516v6h1v-6zM361 515v5h1v-5zM362 512v8h1v-8zM363 512v5h1v-5zM364 511v6h1v-6zM365 508v7h1v-7zM366 507v6h1v-6zM367 505v7h1v-7zM368 502v8h1v-8zM369 501v7h1v-7zM370 499v7h1v-7zM371 497v7h1v-7zM372 496v8h1v-8zM373 493v8h1v-8zM374 492v11h1v-11zM381 518v7h1v-7zM382 517v8h1v-8zM383 518v4h1v-4zM388 513v8h1v-8zM389 513v5h1v-5zM393 512v7h1v-7zM394 513v5h1v-5zM395 513v4h1v-4zM399 514v3h1v-3zM400 513v4h1v-4zM401 514v4h1v-4zM402 515v3h1v-3zM408 519v8h1v-8zM409 517v7h1v-7zM410 518v5h1v-5zM422 518v6h1v-6zM423 519v4h1v-4zM424 517v4h1v-4zM425 517v3h1v-3zM426 517v3h1v-3zM427 517v3h1v-3zM428 517v4h1v-4zM445 581v12h1v-12zM446 581v11h1v-11zM447 581v6h1v-6zM448 582v8h1v-8zM460 597v12h1v-12zM461 591v17h1v-17zM462 588v15h1v-15zM463 584v16h1v-16zM464 582v12h1v-12zM465 581v9h1v-9zM466 582v9h1v-9zM475 588v6h1v-6zM476 587v6h1v-6zM477 585v6h1v-6zM478 584v6h1v-6zM479 585v8h1v-8zM486 594v4h1v-4zM487 595v3h1v-3zM488 595v4h1v-4zM505 596v9h1v-9zM506 595v6h1v-6zM510 594v5h1v-5zM511 594v4h1v-4zM512 591v6h1v-6zM513 588v9h1v-9zM514 588v8h1v-8zM515 585v9h1v-9zM516 584v8h1v-8zM517 583v7h1v-7zM518 584v7h1v-7zM524 589v4h1v-4zM525 589v3h1v-3zM526 588v4h1v-4zM527 589v3h1v-3zM528 588v3h1v-3zM529 588v3h1v-3zM534 584v7h1v-7zM535 584v5h1v-5zM536 585v4h1v-4zM537 584v4h1v-4zM538 584v3h1v-3zM539 584v4h1v-4zM543 585v3h1v-3zM544 584v4h1v-4zM545 583v5h1v-5zM546 582v6h1v-6zM547 576v11h1v-11zM548 561v25h1v-25zM549 558v27h1v-27zM550 556v24h1v-24zM551 553v11h1v-11zM552 550v10h1v-10zM553 549v10h1v-10zM554 547v8h1v-8zM555 546v9h1v-9zM560 552v5h1v-5zM561 551v6h1v-6zM562 549v7h1v-7zM563 547v8h1v-8zM564 545v8h1v-8zM565 545v7h1v-7zM566 543v7h1v-7zM567 542v9h1v-9zM572 547v8h1v-8zM573 544v12h1v-12zM574 539v13h1v-13zM575 537v13h1v-13zM576 535v10h1v-10zM577 531v10h1v-10zM578 528v11h1v-11zM579 522v16h1v-16zM580 511v22h1v-22zM581 500v31h1v-31zM582 488v37h1v-37zM583 478v36h1v-36zM584 470v16h1v-16zM585 468v17h1v-17zM588 474v10h1v-10zM589 472v11h1v-11zM592 468v13h1v-13zM593 461v13h1v-13zM594 456v13h1v-13zM595 452v14h1v-14zM605 474v9h1v-9zM606 473v11h1v-11zM607 470v9h1v-9zM608 464v11h1v-11zM609 460v10h1v-10zM610 452v17h1v-17zM611 447v14h1v-14zM612 441v13h1v-13zM614 425v16h1v-16zM615 413v22h1v-22zM616 401v22h1v-22zM617 382v25h1v-25zM618 374v18h1v-18zM619 354v30h1v-30zM625 367v29h1v-29zM626 374v26h1v-26zM627 373v21h1v-21zM628 375v17h1v-17zM629 367v16h1v-16zM630 353v25h1v-25zM631 362v15h1v-15zM632 364v15h1v-15zM638 407v19h1v-19zM639 409v10h1v-10zM648 419v13h1v-13zM650 401v16h1v-16zM651 391v16h1v-16zM652 379v20h1v-20zM653 371v14h1v-14zM654 366v11h1v-11zM655 365v11h1v-11zM664 401v17h1v-17zM665 401v14h1v-14zM669 409v10h1v-10zM674 416v14h1v-14zM675 412v17h1v-17zM676 410v12h1v-12zM677 400v14h1v-14zM678 401v12h1v-12zM679 398v11h1v-11zM680 402v10h1v-10zM685 408v11h1v-11zM686 408v10h1v-10zM687 408v9h1v-9zM688 409v9h1v-9zM698 466v10h1v-10zM699 462v14h1v-14zM700 466v12h1v-12zM707 464v8h1v-8zM708 462v10h1v-10zM719 458v24h1v-24zM720 438v33h1v-33zM721 431v25h1v-25zM722 430v12h1v-12zM723 433v8h1v-8zM726 437v9h1v-9zM727 436v10h1v-10zM728 433v13h1v-13zM729 435v8h1v-8zM730 437v10h1v-10zM733 445v10h1v-10zM734 447v10h1v-10zM747 487v13h1v-13zM748 486v10h1v-10zM749 484v12h1v-12zM750 485v9h1v-9zM755 489v7h1v-7zM756 488v8h1v-8zM757 489v10h1v-10zM765 497v14h1v-14zM766 495v10h1v-10zM767 493v10h1v-10zM768 493v9h1v-9zM769 491v9h1v-9zM770 492v9h1v-9zM773 491v12h1v-12zM774 493v9h1v-9zM775 492v11h1v-11zM779 491v9h1v-9zM780 487v8h1v-8zM781 483v10h1v-10zM782 473v16h1v-16zM783 471v10h1v-10zM784 469v10h1v-10zM785 465v10h1v-10zM786 458v11h1v-11zM787 454v13h1v-13zM788 452v11h1v-11zM789 449v10h1v-10zM798 448v14h1v-14zM799 442v16h1v-16zM800 435v13h1v-13zM801 434v11h1v-11zM806 428v11h1v-11zM807 423v12h1v-12zM808 422v8h1v-8zM809 415v10h1v-10zM810 414v10h1v-10zM811 410v12h1v-12zM812 413v7h1v-7zM813 412v12h1v-12zM824 443v14h1v-14zM829 448v8h1v-8zM830 446v7h1v-7zM831 449v10h1v-10zM841 526v18h1v-18zM842 523v14h1v-14zM843 519v20h1v-20zM844 516v16h1v-16zM845 510v13h1v-13zM846 509v11h1v-11zM851 514v14h1v-14zM852 512v11h1v-11zM853 506v10h1v-10zM854 499v15h1v-15zM855 497v12h1v-12zM856 496v9h1v-9zM857 497v6h1v-6zM864 500v10h1v-10zM865 496v9h1v-9zM866 496v13h1v-13zM867 495v12h1v-12zM868 499v8h1v-8zM869 496v10h1v-10zM871 489v14h1v-14zM873 484v9h1v-9zM874 475v14h1v-14zM875 468v14h1v-14zM876 455v21h1v-21zM878 444v12h1v-12zM879 440v12h1v-12zM880 438v13h1v-13zM881 431v15h1v-15zM882 426v14h1v-14zM883 424v18h1v-18zM884 428v14h1v-14zM888 422v19h1v-19zM889 425v11h1v-11zM890 425v9h1v-9zM891 425v9h1v-9zM892 422v11h1v-11z"/>
</g>
<g stroke="#ffffff" stroke-width="2.1" stroke-dasharray="2.1 3.909" fill="none"><line x1="616.2" y1="325.77" x2="1063.7" y2="472.13"/><line x1="576.45" y1="401.98" x2="903.05" y2="641.02"/></g>
<g fill="#ffffff" shape-rendering="crispEdges">
<rect x="8" y="55" width="1789" height="1"/>
<rect x="8" y="731" width="1789" height="1"/>
<rect x="8" y="55" width="1" height="677"/>
<rect x="1796" y="55" width="1" height="677"/>
<rect x="8" y="93" width="1789" height="1"/>
<rect x="8" y="695" width="1789" height="1"/>
<rect x="1714" y="55" width="1" height="677"/>
<rect x="1715" y="145" width="5" height="1"/>
<rect x="1715" y="200" width="5" height="1"/>
<rect x="1715" y="255" width="5" height="1"/>
<rect x="1715" y="310" width="5" height="1"/>
<rect x="1715" y="365" width="5" height="1"/>
<rect x="1715" y="421" width="5" height="1"/>
<rect x="1715" y="476" width="5" height="1"/>
<rect x="1715" y="531" width="5" height="1"/>
<rect x="1715" y="586" width="5" height="1"/>
<rect x="1715" y="641" width="5" height="1"/>
<rect x="169" y="696" width="1" height="4"/>
<rect x="295" y="696" width="1" height="4"/>
<rect x="473" y="696" width="1" height="4"/>
<rect x="598" y="696" width="1" height="4"/>
<rect x="777" y="696" width="1" height="4"/>
<rect x="877" y="696" width="1" height="4"/>
<rect x="979" y="696" width="1" height="4"/>
<rect x="1081" y="696" width="1" height="4"/>
<rect x="1207" y="696" width="1" height="4"/>
<rect x="1308" y="696" width="1" height="4"/>
</g>
<g fill="#f4f8ff" font-size="14.8" font-weight="700">
<text x="1724.6" y="151.5">20000.00</text>
<text x="1724.6" y="206.5">18000.00</text>
<text x="1724.6" y="261.5">16000.00</text>
<text x="1724.6" y="316.5">14000.00</text>
<text x="1724.6" y="371.5">12000.00</text>
<text x="1724.6" y="427.5">10000.00</text>
<text x="1724.6" y="482.5">8000.00</text>
<text x="1724.6" y="537.5">6000.00</text>
<text x="1724.6" y="592.5">4000.00</text>
<text x="1724.6" y="647.5">2000.00</text>
</g>
<clipPath id="cp"><rect x="1715" y="56" width="80" height="37"/></clipPath>
<g clip-path="url(#cp)"><rect x="1715" y="91" width="5" height="1" fill="#fff"/><text x="1724.8" y="97.8" font-size="14.8" font-weight="700" fill="#f4f8ff">0.00</text></g>
<text x="169.5" y="720.3" text-anchor="middle" font-size="15.4" font-weight="700" fill="#fff" letter-spacing="0.2">2018</text>
<text x="295.5" y="720.3" text-anchor="middle" font-size="14.6" fill="#fff" stroke="#fff" stroke-width="0.45">Jun</text>
<text x="473.5" y="720.3" text-anchor="middle" font-size="15.4" font-weight="700" fill="#fff" letter-spacing="0.2">2019</text>
<text x="598.5" y="720.3" text-anchor="middle" font-size="14.6" fill="#fff" stroke="#fff" stroke-width="0.45">Jun</text>
<text x="777.5" y="720.3" text-anchor="middle" font-size="15.4" font-weight="700" fill="#fff" letter-spacing="0.2">2020</text>
<text x="877.5" y="720.3" text-anchor="middle" font-size="14.6" fill="#fff" stroke="#fff" stroke-width="0.45">May</text>
<text x="979.5" y="720.3" text-anchor="middle" font-size="14.6" fill="#fff" stroke="#fff" stroke-width="0.45">Sep</text>
<text x="1081.5" y="720.3" text-anchor="middle" font-size="15.4" font-weight="700" fill="#fff" letter-spacing="0.2">2021</text>
<text x="1207.5" y="720.3" text-anchor="middle" font-size="14.6" fill="#fff" stroke="#fff" stroke-width="0.45">Jun</text>
<text x="1308.5" y="720.3" text-anchor="middle" font-size="14.6" fill="#fff" stroke="#fff" stroke-width="0.45">Oct</text>
<text x="662.2" y="325.0" text-anchor="middle" font-size="20.8" font-weight="700" fill="#fff">(ii)</text>
<text x="817.2" y="381.0" text-anchor="middle" font-size="20.8" font-weight="700" fill="#fff">(iv)</text>
<text x="637.9" y="488.2" text-anchor="middle" font-size="20.8" font-weight="700" fill="#fff">(i)</text>
<text x="739.4" y="548.0" text-anchor="middle" font-size="20.8" font-weight="700" fill="#fff">(iii)</text>
<text x="834.6" y="633.0" text-anchor="middle" font-size="20.8" font-weight="700" fill="#fff">(v)</text>
<text x="19.6" y="81.6" font-size="14.6" fill="#fff" letter-spacing="0.27">RSI (14, close)</text>
<text x="19.4" y="119.7" font-size="15" font-weight="700" fill="#fff" letter-spacing="0.36">Bitcoin / U.S. Dollar, 1D, BITSTAMP, Heikin Ashi</text>
<rect x="1677" y="63" width="36" height="21" fill="#fff"/>
<rect x="1678" y="64" width="34" height="19" fill="#f5e7fb"/>
<g stroke="#ddd0dc" stroke-width="1" stroke-dasharray="5 6" shape-rendering="crispEdges"><line x1="1681" y1="68.5" x2="1710" y2="68.5"/><line x1="1681" y1="81.5" x2="1710" y2="81.5"/></g>
<text x="1687.6" y="77.4" font-size="14.4" fill="#2a2233" textLength="19" lengthAdjust="spacingAndGlyphs">RSI</text>
<rect x="1715" y="63" width="58" height="21" fill="#fff"/>
<rect x="1715" y="73" width="5" height="1" fill="#222"/>
<text x="1725.3" y="77.9" font-size="14.8" fill="#1c1c1c">54.39</text>
<rect x="1714" y="434" width="75" height="21" fill="#f57c12"/>
<rect x="1715" y="443" width="5" height="1" fill="#fff"/>
<text x="1725.2" y="448.6" font-size="14.4" font-weight="700" fill="#fff">9133.92</text>
<rect x="1714" y="455" width="75" height="21" fill="#fff"/>
<text x="1720.8" y="469.5" font-size="14.6" fill="#1c1c1c">13:16:51</text>
</svg>
<div id="footer">
<svg style="position:absolute;left:7px;top:743px" width="35" height="23" viewBox="0 0 35 23"><path fill="#2196f3" d="M7.2 21.0 C3.5 21.0 0.9 18.7 0.9 15.6 C0.9 12.7 3.0 10.5 5.6 10.0 C5.9 5.4 9.4 1.9 13.9 1.9 C17.6 1.9 20.6 4.2 21.8 7.4 C22.7 7.0 23.7 6.8 24.7 6.8 C28.3 6.8 31.1 9.4 31.4 12.8 C32.6 13.6 33.4 15.0 33.4 16.6 C33.4 19.1 31.3 21.0 28.8 21.0 Z"/><path fill="none" stroke="#131722" stroke-width="1.5" stroke-linejoin="round" d="M1.2 17.6 L13 9.2 L20.8 16.3 L27.6 8.4"/><circle cx="13" cy="9.2" r="2.1" fill="#131722"/><circle cx="20.8" cy="16.3" r="2.1" fill="#131722"/></svg>
<span class="t" style="left:42.2px;top:747.49px;font-size:15.6px;line-height:15.6px;color:#fff;letter-spacing:0.3px;">TradingView</span>
</div>
</body>
</html>
